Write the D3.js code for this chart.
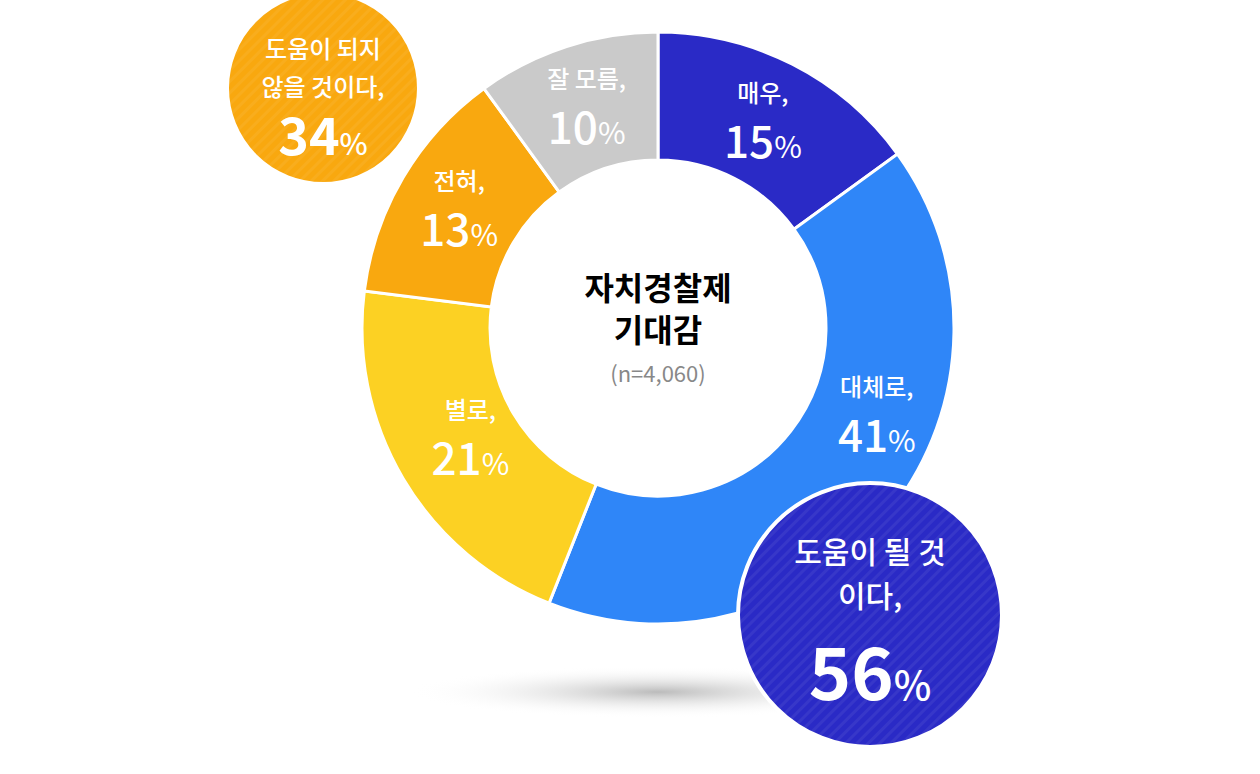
<!DOCTYPE html>
<html><head><meta charset="utf-8">
<script src="https://cdn.jsdelivr.net/npm/d3@7"></script>
<style>body{margin:0;background:#fff}text{font-family:"Noto Sans CJK KR","Noto Sans",sans-serif}</style>
</head><body><svg id="c" width="1260" height="774"></svg>
<script>
const categories=["매우,","대체로,","별로,","전혀,","잘 모름,"];
const values=[15,41,21,13,10];
const colors=["#2a2ac6","#2f86f8","#fcd123","#f9a80f","#cacaca"];
const summaryLabels=[["도움이 될 것","이다,"],["도움이 되지","않을 것이다,"]];
const summaryValues=[56,34];

const svg=d3.select("#c");
const cx=658,cy=328,R=296,r=168;
const defs=svg.append("defs");
const g1=defs.append("radialGradient").attr("id","sh");
g1.append("stop").attr("offset","0%").attr("stop-color","#bbb");
g1.append("stop").attr("offset","100%").attr("stop-color","#fff").attr("stop-opacity",0);
svg.append("ellipse").attr("cx",cx).attr("cy",692).attr("rx",250).attr("ry",26).attr("fill","url(#sh)");
["b","o"].forEach((id,i)=>{
 const p=defs.append("pattern").attr("id","p"+id).attr("width",8).attr("height",8).attr("patternUnits","userSpaceOnUse").attr("patternTransform","rotate(45)");
 p.append("rect").attr("width",8).attr("height",8).attr("fill",i?"#f9a80f":"#2a2ac6");
 p.append("rect").attr("width",3).attr("height",8).attr("fill","#fff").attr("opacity",0.06);
});
const pie=d3.pie().sort(null).value(d=>d);
const arcs=pie(values);
const arc=d3.arc().innerRadius(r).outerRadius(R);
const g=svg.append("g").attr("transform",`translate(${cx},${cy})`);
g.selectAll("path").data(arcs).join("path").attr("d",arc).attr("fill",(d,i)=>colors[i]).attr("stroke","#fff").attr("stroke-width",3);
arcs.forEach((d,i)=>{
 let a=(d.startAngle+d.endAngle)/2, rr=231;
 if(i===1){a=112*Math.PI/180;rr=236;}
 if(i===2){rr=218;}
 const x=rr*Math.sin(a), y=-rr*Math.cos(a);
 g.append("text").attr("text-anchor","middle").attr("fill","#fff").attr("x",x).attr("y",y-20).attr("font-size",24).attr("font-weight",500).text(categories[i]);
 const t2=g.append("text").attr("text-anchor","middle").attr("fill","#fff").attr("x",x).attr("y",y+36);
 t2.append("tspan").attr("font-size",44).attr("font-weight",500).text(values[i]);
 t2.append("tspan").attr("font-size",30).text("%");
});
g.append("text").attr("text-anchor","middle").attr("y",-28).attr("font-size",32).attr("font-weight",700).text("자치경찰제");
g.append("text").attr("text-anchor","middle").attr("y",14).attr("font-size",32).attr("font-weight",700).text("기대감");
g.append("text").attr("text-anchor","middle").attr("y",54).attr("font-size",22).attr("fill","#888").text("(n=4,060)");
const badges=[{x:870,y:615,rad:132,f:"pb",fs:30,ns:72,ps:40,ly:[-52,-8],ny:85},{x:323,y:88,rad:96,f:"po",fs:24,ns:52,ps:30,ly:[-30,8],ny:67}];
badges.forEach((b,i)=>{
 const bg=svg.append("g").attr("transform",`translate(${b.x},${b.y})`);
 bg.append("circle").attr("r",b.rad).attr("fill",`url(#${b.f})`).attr("stroke","#fff").attr("stroke-width",4);
 summaryLabels[i].forEach((s,k)=>bg.append("text").attr("text-anchor","middle").attr("y",b.ly[k]).attr("fill","#fff").attr("font-size",b.fs).attr("font-weight",500).text(s));
 const t=bg.append("text").attr("text-anchor","middle").attr("y",b.ny).attr("fill","#fff");
 t.append("tspan").attr("font-size",b.ns).attr("font-weight",700).text(summaryValues[i]);
 t.append("tspan").attr("font-size",b.ps).attr("font-weight",500).text("%");
});
</script></body></html>
